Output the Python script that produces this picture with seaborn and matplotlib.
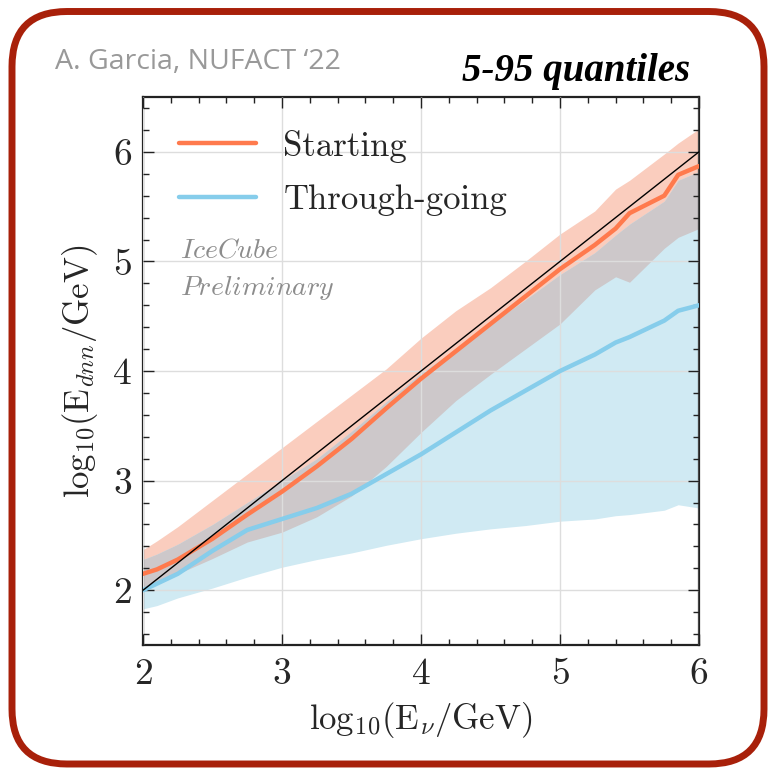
import numpy as np
import pandas as pd
import matplotlib
matplotlib.use("Agg")
import matplotlib.pyplot as plt
import seaborn as sns
from matplotlib.patches import FancyBboxPatch
from matplotlib.ticker import MultipleLocator

# ---- data ----
x_vals = [2.0, 2.1, 2.25, 2.5, 2.75, 3.0, 3.25, 3.5, 3.75, 4.0, 4.25, 4.5,
          4.75, 5.0, 5.25, 5.4, 5.5, 5.75, 5.85, 6.0]

start_med = [2.15, 2.19, 2.28, 2.47, 2.69, 2.90, 3.13, 3.38, 3.66, 3.93, 4.18, 4.43,
             4.68, 4.93, 5.15, 5.30, 5.44, 5.60, 5.79, 5.87]
start_hi = [2.37, 2.45, 2.58, 2.82, 3.06, 3.30, 3.54, 3.78, 4.02, 4.30, 4.55, 4.76,
            5.00, 5.25, 5.46, 5.66, 5.74, 5.98, 6.08, 6.21]
start_lo = [2.00, 2.06, 2.15, 2.29, 2.44, 2.53, 2.67, 2.86, 3.13, 3.44, 3.73, 3.97,
            4.20, 4.43, 4.74, 4.86, 4.81, 5.12, 5.22, 5.30]

thr_med = [2.00, 2.06, 2.15, 2.36, 2.55, 2.65, 2.75, 2.88, 3.06, 3.24, 3.44, 3.64,
           3.82, 4.00, 4.15, 4.26, 4.31, 4.46, 4.55, 4.60]
thr_hi = [2.28, 2.33, 2.42, 2.60, 2.80, 3.00, 3.20, 3.45, 3.72, 3.98, 4.20, 4.43,
          4.65, 4.88, 5.08, 5.24, 5.34, 5.55, 5.74, 5.82]
thr_lo = [1.83, 1.86, 1.93, 2.02, 2.12, 2.21, 2.28, 2.34, 2.41, 2.47, 2.52, 2.56,
          2.59, 2.63, 2.65, 2.68, 2.69, 2.73, 2.78, 2.75]

labels = ["Starting", "Through-going"]
x_ticks = [2, 3, 4, 5, 6]
y_ticks = [2, 3, 4, 5, 6]

# ---- style ----
sns.set_style("ticks")
plt.rcParams["font.family"] = ["cmr10", "DejaVu Serif"]
plt.rcParams["mathtext.fontset"] = "cm"
plt.rcParams["axes.formatter.use_mathtext"] = True

fig = plt.figure(figsize=(7.69, 7.70), dpi=100)
ax = fig.add_axes([0.186, 0.1623, 0.723, 0.7117])

x = np.array(x_vals)
s_lo, s_hi = np.array(start_lo), np.array(start_hi)
t_lo, t_hi = np.array(thr_lo), np.array(thr_hi)

ax.fill_between(x, s_lo, s_hi, color="#FACDBE", lw=0, zorder=1)
ax.fill_between(x, t_lo, t_hi, color="#D0EAF3", lw=0, zorder=1.1)
o_lo = np.maximum(s_lo, t_lo)
o_hi = np.minimum(s_hi, t_hi)
ax.fill_between(x, o_lo, o_hi, where=o_hi > o_lo, interpolate=True,
                color="#CDC8CA", lw=0, zorder=1.2)

df = pd.DataFrame({
    "x": x_vals * 2,
    "y": start_med + thr_med,
    "sample": [labels[0]] * len(x_vals) + [labels[1]] * len(x_vals),
})
sns.lineplot(data=df, x="x", y="y", hue="sample",
             palette={labels[0]: "#FF7A4D", labels[1]: "#86CDEB"},
             lw=3.2, ax=ax, zorder=3, sort=False)
ax.plot(x_vals, x_vals, color="black", lw=1.0, zorder=4)

ax.set_xlim(2, 6)
ax.set_ylim(1.5, 6.5)
ax.set_xticks(x_ticks)
ax.set_yticks(y_ticks)
ax.xaxis.set_minor_locator(MultipleLocator(0.2))
ax.yaxis.set_minor_locator(MultipleLocator(0.2))
ax.tick_params(which="both", direction="in", top=True, right=True,
               color="#222222", width=1.0)
ax.tick_params(which="major", length=8, labelsize=27)
ax.tick_params(which="minor", length=4)
ax.tick_params(axis="x", which="major", pad=9)
ax.tick_params(axis="y", which="major", pad=8)
ax.grid(True, which="major", color="#dddddd", lw=1.0)
ax.set_axisbelow(False)
for sp in ax.spines.values():
    sp.set_linewidth(1.6)
    sp.set_color("#222222")

ax.set_xlabel(r"$\mathrm{log}_{10}(\mathrm{E}_{\nu}/\mathrm{GeV})$", fontsize=25, va="center")
ax.set_ylabel(r"$\mathrm{log}_{10}(\mathrm{E}_{dnn}/\mathrm{GeV})$", fontsize=25, va="center")
ax.xaxis.set_label_coords(0.5, -(720 - 645) / 548)
ax.yaxis.set_label_coords(-(143 - 80) / 556, 0.5)

leg = ax.legend(loc="upper left", frameon=False,
                prop={"family": "cmr10", "size": 25},
                handlelength=2.2, handletextpad=0.8, labelspacing=0.62,
                borderaxespad=0.0, bbox_to_anchor=(0.04, 0.966))
for h in leg.get_lines():
    h.set_linewidth(3.2)

ax.text(0.066, 0.72, r"$\mathit{IceCube}$", transform=ax.transAxes,
        fontsize=20, color="#8c8c8c", va="center", ha="left")
ax.text(0.066, 0.652, r"$\mathit{Preliminary}$", transform=ax.transAxes,
        fontsize=20, color="#8c8c8c", va="center", ha="left")

fig.text(55 / 769, 1 - 62 / 770, "A. Garcia, NUFACT \u201822", family="Open Sans",
         fontsize=20.5, color="#999999", ha="left", va="center")
fig.text(690 / 769, 1 - 72 / 770, "5-95 quantiles", family="Liberation Serif",
         style="italic", weight="bold", fontsize=28, color="black",
         ha="right", va="center")

border = FancyBboxPatch((0.12, 0.06), 7.52, 7.525,
                        boxstyle="round,pad=0,rounding_size=0.55",
                        transform=fig.dpi_scale_trans, fill=False,
                        ec="#A8200A", lw=5)
fig.add_artist(border)

fig.savefig("out.png", dpi=100)
